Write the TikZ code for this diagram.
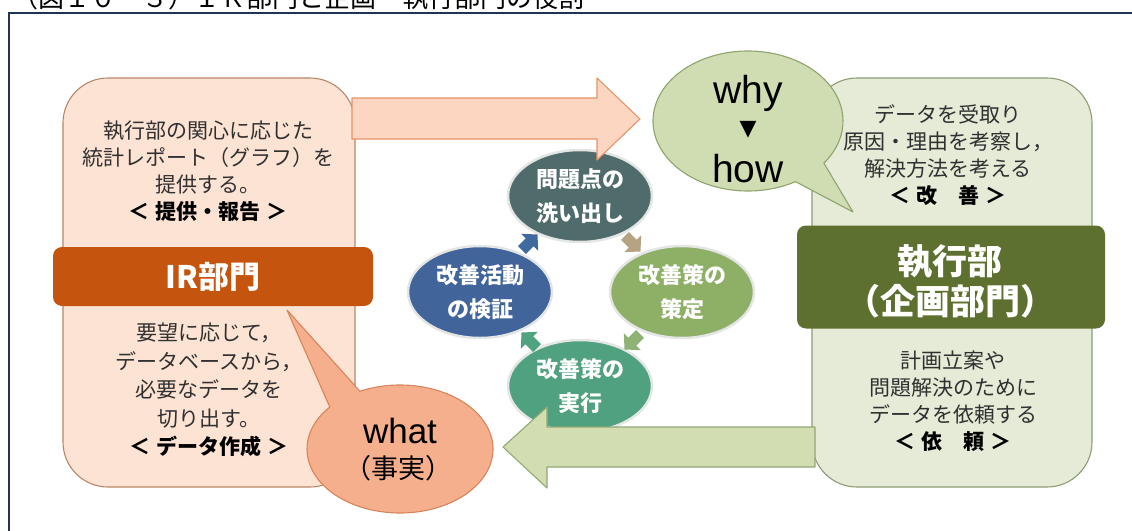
\documentclass[tikz,border=0pt]{standalone}
\usepackage{fontspec}
\setmainfont{Noto Sans CJK JP}
\newfontfamily\latf{Liberation Sans}
\newfontfamily\dvf{DejaVu Sans}
\usetikzlibrary{shapes.geometric}
\definecolor{framec}{HTML}{1F3451}
\definecolor{peachL}{HTML}{FCE3D3}
\definecolor{peachB}{HTML}{B98767}
\definecolor{irbar}{HTML}{C5540F}
\definecolor{arrP}{HTML}{FCD6C0}
\definecolor{arrPB}{HTML}{E49467}
\definecolor{whatF}{HTML}{F6AF8C}
\definecolor{whatB}{HTML}{D9845B}
\definecolor{grnL}{HTML}{E5EBD7}
\definecolor{grnB}{HTML}{8D9C73}
\definecolor{grnbar}{HTML}{5E702F}
\definecolor{whyF}{HTML}{D0DCB2}
\definecolor{whyB}{HTML}{8FA46C}
\definecolor{arrG}{HTML}{D2DEB2}
\definecolor{arrGB}{HTML}{93A874}
\definecolor{cA}{HTML}{506B6B}
\definecolor{cB}{HTML}{8EAF66}
\definecolor{cC}{HTML}{50A17F}
\definecolor{cD}{HTML}{41659B}
\definecolor{aA}{HTML}{3E6AA0}
\definecolor{aB}{HTML}{B6A383}
\definecolor{aC}{HTML}{8FB276}
\definecolor{aD}{HTML}{50A380}
\definecolor{ring}{HTML}{E4E6E6}
\definecolor{txt}{HTML}{303030}
\tikzset{
  panel/.style={rounded corners=45, line width=1.1, inner sep=0},
  bar/.style={rounded corners=9, inner sep=0, text=white, align=center},
  body/.style={align=center, text=txt, inner sep=0, font=\fontsize{21}{27}\selectfont},
  cyc/.style={ellipse, draw=ring, line width=2.5, minimum width=144, minimum height=92, inner sep=0, align=center, text=white, font=\fontsize{22}{34}\selectfont\bfseries},
  smallarr/.pic={\path[pic actions] (-10,-5.5) -- (1,-5.5) -- (1,-12) -- (12,0) -- (1,12) -- (1,5.5) -- (-10,5.5) -- cycle;},
}
\begin{document}
\begin{tikzpicture}[x=1pt,y=-1pt]
\useasboundingbox (0,0) rectangle (1132,530);
% title (cut off at top, as in the source)
\node[anchor=base west, inner sep=0, font=\fontsize{26}{26}\selectfont, text=black] (title) at (12,8) {（図１０－３）ＩＲ部門と企画・執行部門の役割};
% frame
\coordinate (fbl) at (8.5,540);
\coordinate (ftl) at (8.5,13);
\coordinate (ftr) at (1140,13);
\draw[framec, line width=2] (fbl) -- (ftl) -- (ftr);

% left panel
\node[panel, draw=peachB, fill=peachL, minimum width=292, minimum height=409] (irbox) at (209,282.5) {};
\node[bar, fill=irbar, minimum width=320, minimum height=59, font=\fontsize{31}{31}\selectfont\bfseries] (irbar) at (213,276.5) {IR部門};

% right panel
\node[panel, draw=grnB, fill=grnL, minimum width=280, minimum height=409] (exbox) at (952,282.5) {};
\node[bar, fill=grnbar, minimum width=308, minimum height=103, font=\fontsize{35}{40}\selectfont\bfseries] (exbar) at (951,277) {};
\node[inner sep=0, align=center, text=white, font=\fontsize{35}{40}\selectfont\bfseries] (exlabel) at (950,281) {執行部\\（企画部門）};

% cycle
\node[cyc, fill=cA] (c1) at (580,196) {問題点の\\洗い出し};
\node[cyc, fill=cB] (c2) at (682,292) {改善策の\\策定};
\node[cyc, fill=cC] (c3) at (580,386) {改善策の\\実行};
\node[cyc, fill=cD] (c4) at (480,292) {改善活動\\の検証};
\pic[fill=aA, rotate=45] at (529,243) {smallarr};
\pic[fill=aB, rotate=-45] at (632,243) {smallarr};
\pic[fill=aC, rotate=-135] at (633,341) {smallarr};
\pic[fill=aD, rotate=135] at (530,341) {smallarr};

% big arrows
\coordinate (pa) at (352,98);
\draw[fill=arrP, draw=arrPB, line width=1.1, line join=round]
  (pa) -- (597,98) -- (597,78) -- (640,119) -- (597,160) -- (597,139) -- (352,139) -- cycle;
\coordinate (ga) at (815,427);
\draw[fill=arrG, draw=arrGB, line width=1.1, line join=round]
  (ga) -- (547,427) -- (547,407) -- (503,447) -- (547,488) -- (547,467) -- (815,467) -- cycle;

% why bubble
\coordinate (whyc) at (748,121);
\draw[fill=whyF, draw=whyB, line width=1.1, line join=round]
  (whyc) ++(60:95 and 70) arc[start angle=60, end angle=397, x radius=95, y radius=70] -- (853,212) -- cycle;
\node[anchor=base, inner sep=0, font=\latf\fontsize{39}{39}\selectfont] (why) at (748,103) {why};
\node[inner sep=0, font=\dvf\fontsize{22}{22}\selectfont] (tri) at (748,130) {▼};
\node[anchor=base, inner sep=0, font=\latf\fontsize{39}{39}\selectfont] (how) at (748,182) {how};

% what bubble
\coordinate (whatc) at (400,449);
\draw[fill=whatF, draw=whatB, line width=1.1, line join=round]
  (whatc) ++(244.5:93 and 64) arc[start angle=244.5, end angle=581, x radius=93, y radius=64] -- (287,310) -- cycle;
\node[anchor=base, inner sep=0, font=\latf\fontsize{35}{35}\selectfont] (what) at (400,443) {what};
\node[inner sep=0, font=\fontsize{27}{27}\selectfont] (fact) at (398,468) {（事実）};

% panel texts
\node[body] (ultext) at (208,171) {執行部の関心に応じた\\統計レポート（グラフ）を\\提供する。\\\textbf{\color{black}＜\hspace{0.3em}提供・報告\hspace{0.3em}＞}};
\node[body, font=\fontsize{21}{28.5}\selectfont] (lltext) at (209,390) {要望に応じて，\\データベースから，\\必要なデータを\\切り出す。\\\textbf{\color{black}＜\hspace{0.3em}データ作成\hspace{0.3em}＞}};
\node[body] (urtext) at (948,155) {データを受取り\\原因・理由を考察し，\\解決方法を考える\\\textbf{\color{black}＜\hspace{0.3em}改　善\hspace{0.3em}＞}};
\node[body] (lrtext) at (953,401) {計画立案や\\問題解決のために\\データを依頼する\\\textbf{\color{black}＜\hspace{0.3em}依　頼\hspace{0.3em}＞}};
\end{tikzpicture}
\end{document}
